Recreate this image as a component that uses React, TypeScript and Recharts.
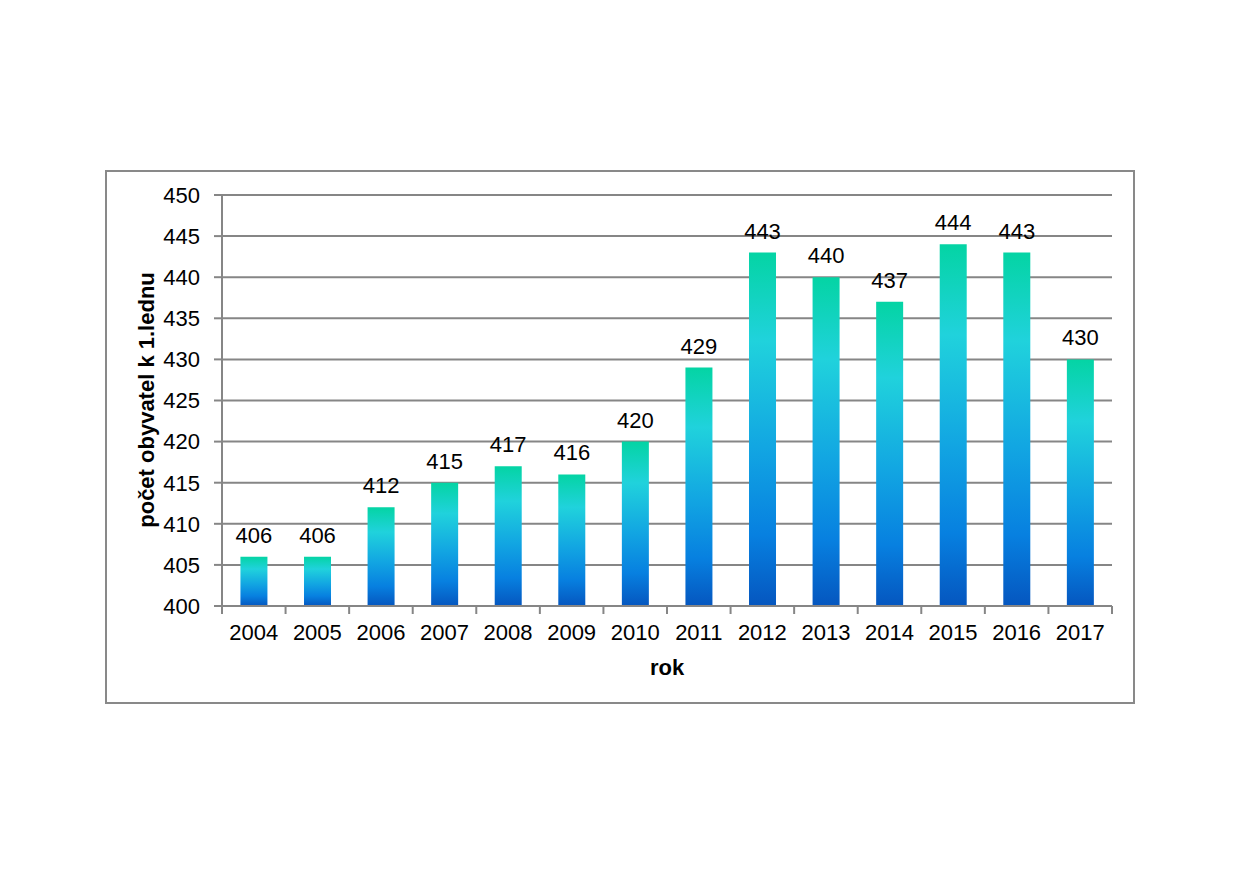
import React from 'react'
import { BarChart, Bar, XAxis, YAxis, CartesianGrid, LabelList } from 'recharts'

const years = ['2004', '2005', '2006', '2007', '2008', '2009', '2010', '2011', '2012', '2013', '2014', '2015', '2016', '2017']
const population = [406, 406, 412, 415, 417, 416, 420, 429, 443, 440, 437, 444, 443, 430]
const yTicks = [400, 405, 410, 415, 420, 425, 430, 435, 440, 445, 450]

const data = years.map((rok, i) => ({ rok, value: population[i] }))

const FONT = '"Liberation Sans", Arial, sans-serif'
const GRAY = '#868686'
const PLOT_W = 890
const STEP = PLOT_W / years.length

// category tick: label plus a short tick line at the category boundary
function YearTick(props: any) {
    const { x, y, payload, index } = props
    const left = x - STEP / 2
    return (
        <g>
            <line x1={left} y1={606} x2={left} y2={614} stroke={GRAY} strokeWidth={2} />
            {index === years.length - 1 && (
                <line x1={x + STEP / 2} y1={606} x2={x + STEP / 2} y2={614} stroke={GRAY} strokeWidth={2} />
            )}
            <text x={x} y={y + 26} textAnchor="middle" fontSize={22} fill="#000" fontFamily={FONT}>
                {payload.value}
            </text>
        </g>
    )
}

export default function App() {
    return (
        <div style={{ position: 'absolute', left: 0, top: 0, width: 1240, height: 875, background: '#fff' }}>
            <div
                style={{
                    position: 'absolute',
                    left: 105,
                    top: 170,
                    width: 1026,
                    height: 530,
                    border: '2px solid #898989',
                }}
            />
            <div style={{ position: 'absolute', left: 0, top: 0 }}>
                <BarChart
                    width={1240}
                    height={875}
                    data={data}
                    margin={{ top: 195, right: 128, bottom: 189, left: 162 }}
                    barCategoryGap="29%"
                >
                    <defs>
                        <linearGradient id="barFill" x1="0" y1="0" x2="0" y2="1">
                            <stop offset="0%" stopColor="#04d4a4" />
                            <stop offset="25%" stopColor="#20d2dc" />
                            <stop offset="55%" stopColor="#12a6e2" />
                            <stop offset="80%" stopColor="#0780e0" />
                            <stop offset="100%" stopColor="#0556bf" />
                        </linearGradient>
                    </defs>
                    <CartesianGrid horizontal vertical={false} stroke={GRAY} strokeWidth={2} />
                    <XAxis
                        dataKey="rok"
                        axisLine={{ stroke: GRAY, strokeWidth: 2 }}
                        tickLine={false}
                        tick={<YearTick />}
                        interval={0}
                        height={80}
                        label={{
                            value: 'rok',
                            position: 'insideBottom',
                            offset: 11,
                            style: { fontFamily: FONT, fontSize: 22, fontWeight: 'bold', fill: '#000' },
                        }}
                    />
                    <YAxis
                        domain={[400, 450]}
                        ticks={yTicks}
                        width={60}
                        interval={0}
                        axisLine={{ stroke: GRAY, strokeWidth: 2 }}
                        tickLine={{ stroke: GRAY, strokeWidth: 2 }}
                        tickSize={8}
                        tickMargin={14}
                        tick={{ fontFamily: FONT, fontSize: 22, fill: '#000' }}
                        label={{
                            content: () => (
                                <text
                                    x={0}
                                    y={0}
                                    transform="translate(154 400) rotate(-90)"
                                    textAnchor="middle"
                                    fontFamily={FONT}
                                    fontSize={22}
                                    fontWeight="bold"
                                    fill="#000"
                                >
                                    počet obyvatel k 1.lednu
                                </text>
                            ),
                        }}
                    />
                    <Bar dataKey="value" fill="url(#barFill)" isAnimationActive={false}>
                        <LabelList
                            dataKey="value"
                            position="top"
                            offset={14}
                            style={{ fontFamily: FONT, fontSize: 22, fill: '#000' }}
                        />
                    </Bar>
                </BarChart>
            </div>
        </div>
    )
}
